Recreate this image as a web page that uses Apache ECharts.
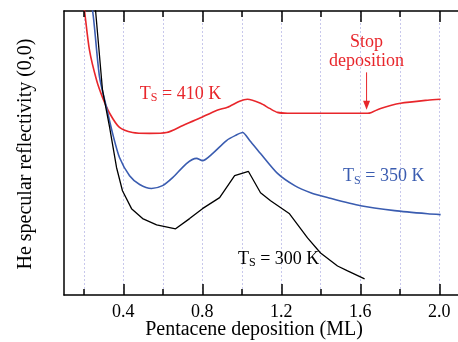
<!DOCTYPE html>
<html lang="en">
<head>
    <meta charset="UTF-8">
    <title>He specular reflectivity</title>
    <script src="https://cdn.jsdelivr.net/npm/echarts/dist/echarts.min.js"></script>
    <style>
        body, html {
            margin: 0;
            padding: 0;
            background: #fff;
        }
        #chart {
            width: 458px;
            height: 342px;
        }
    </style>
</head>
<body>
<div id="chart"></div>
<script>
    // data (x in ML, y in arbitrary units 0..100)
    const red410 = [
        [0.189, 107.4], [0.204, 100], [0.229, 86.2], [0.265, 75.6], [0.295, 69.6],
        [0.331, 64.0], [0.381, 59.0], [0.447, 57.2], [0.533, 56.9], [0.619, 57.2],
        [0.702, 59.7], [0.786, 62.2], [0.872, 65.0], [0.928, 66.1], [0.989, 68.2],
        [1.029, 68.9], [1.095, 67.5], [1.141, 65.7], [1.181, 64.3], [1.232, 64.0],
        [1.394, 64.0], [1.637, 64.0], [1.657, 64.3], [1.703, 65.7], [1.804, 67.5],
        [1.941, 68.6], [2.007, 68.9]
    ];
    const blue350 = [
        [0.219, 107.4], [0.245, 100], [0.280, 76.7], [0.315, 66.1], [0.346, 56.9],
        [0.381, 48.4], [0.432, 42.0], [0.483, 38.9], [0.543, 37.5], [0.599, 38.5],
        [0.650, 41.3], [0.720, 46.3], [0.771, 48.1], [0.801, 47.3], [0.852, 49.8],
        [0.923, 54.4], [0.969, 56.2], [1.004, 57.2], [1.040, 54.4], [1.095, 49.8],
        [1.181, 42.8], [1.268, 38.5], [1.349, 36.0], [1.434, 34.3], [1.602, 31.4],
        [1.774, 29.7], [1.941, 28.6], [2.007, 28.3]
    ];
    const black300 = [
        [0.235, 107.4], [0.260, 100], [0.295, 72.1], [0.331, 59.0], [0.366, 44.9],
        [0.396, 36.7], [0.442, 30.4], [0.498, 26.9], [0.569, 24.7], [0.665, 23.3],
        [0.736, 26.9], [0.801, 30.4], [0.888, 34.3], [0.964, 42.0], [1.034, 43.5],
        [1.095, 36.0], [1.146, 33.2], [1.242, 28.6], [1.333, 20.1], [1.399, 14.8],
        [1.485, 10.2], [1.536, 8.5], [1.622, 5.7]
    ];

    // tick positions on the x axis
    const majorTicks = [0.4, 0.8, 1.2, 1.6, 2.0];
    const minorTicks = [0.2, 0.6, 1.0, 1.4, 1.8];
    const allTicks = [0.2, 0.4, 0.6, 0.8, 1.0, 1.2, 1.4, 1.6, 1.8, 2.0];

    // label anchors in data coordinates
    const label410 = [0.690, 70.7];
    const label350 = [1.719, 41.7];
    const label300 = [1.187, 12.7];
    const stopLabel = [1.632, 85.5];
    const stopArrow = [[1.632, 78.4], [1.632, 65.2]];

    const RED = '#e8262b';
    const BLUE = '#3a5cb0';
    const SERIF = 'Liberation Serif';
    const Y_MIN = 0;
    const Y_MAX = 100;
    const MAJOR_LEN = 3.9;   // tick length in y units (about 11 px)
    const MINOR_LEN = 2.1;   // about 6 px

    function tsLabel(temp) {
        return '{t|T}{s|S}{t| = ' + temp + ' K}';
    }
    function tsRich(color) {
        return {
            t: {fontFamily: SERIF, fontSize: 18, color: color, lineHeight: 20},
            s: {fontFamily: SERIF, fontSize: 12, color: color, lineHeight: 20, verticalAlign: 'bottom', padding: [6, 0, 0, 0]}
        };
    }
    function labelPoint(coord, temp, color) {
        return {
            symbol: 'circle',
            symbolSize: 0,
            silent: true,
            data: [{coord: coord}],
            label: {
                show: true,
                position: 'inside',
                formatter: tsLabel(temp),
                rich: tsRich(color)
            }
        };
    }

    // tick marks on the bottom and top frame lines
    function tickSegments(values, len) {
        const segs = [];
        values.forEach(v => {
            segs.push([{coord: [v, Y_MIN]}, {coord: [v, Y_MIN + len]}]);
            segs.push([{coord: [v, Y_MAX]}, {coord: [v, Y_MAX - len]}]);
        });
        return segs;
    }

    function xAxisDef(position, extra) {
        return Object.assign({
            type: 'value',
            position: position,
            min: 0.1,
            max: 2.1,
            axisLine: {show: true, onZero: false, lineStyle: {color: '#000', width: 1.5}},
            axisTick: {show: false},
            axisLabel: {show: false},
            splitLine: {show: false}
        }, extra || {});
    }

    const chart = echarts.init(document.getElementById('chart'));
    const option = {
        animation: false,
        grid: {left: 64, top: 11, right: -1, bottom: 47, outerBoundsMode: 'none'},
        xAxis: [
            xAxisDef('bottom', {
                axisLabel: {
                    show: true,
                    customValues: majorTicks,
                    margin: 8,
                    fontFamily: SERIF,
                    fontSize: 18,
                    color: '#000',
                    formatter: v => v.toFixed(1)
                }
            }),
            xAxisDef('top', {
                axisTick: {show: false, customValues: allTicks},
                splitLine: {show: true, lineStyle: {color: '#c8c8ec', type: [2, 2], width: 1}}
            })
        ],
        yAxis: {
            type: 'value',
            min: Y_MIN,
            max: Y_MAX,
            axisLine: {show: true, lineStyle: {color: '#000', width: 1.5}},
            axisTick: {show: false},
            axisLabel: {show: false},
            splitLine: {show: false}
        },
        series: [
            {
                name: 'Ts = 410 K',
                type: 'line',
                xAxisIndex: 0,
                data: red410,
                showSymbol: false,
                smooth: 0.25,
                lineStyle: {color: RED, width: 1.6},
                markPoint: labelPoint(label410, 410, RED)
            },
            {
                name: 'Ts = 350 K',
                type: 'line',
                xAxisIndex: 0,
                data: blue350,
                showSymbol: false,
                smooth: 0.25,
                lineStyle: {color: BLUE, width: 1.6},
                markPoint: labelPoint(label350, 350, BLUE)
            },
            {
                name: 'Ts = 300 K',
                type: 'line',
                xAxisIndex: 0,
                data: black300,
                showSymbol: false,
                lineStyle: {color: '#000', width: 1.3},
                markPoint: labelPoint(label300, 300, '#000')
            },
            {
                name: 'stop',
                type: 'scatter',
                xAxisIndex: 0,
                data: [],
                markPoint: {
                    symbol: 'circle',
                    symbolSize: 0,
                    silent: true,
                    data: [{coord: stopLabel}],
                    label: {
                        show: true,
                        position: 'inside',
                        formatter: 'Stop\ndeposition',
                        fontFamily: SERIF,
                        fontSize: 18,
                        lineHeight: 19,
                        color: RED
                    }
                },
                markLine: {
                    silent: true,
                    symbol: ['none', 'none'],
                    label: {show: false},
                    lineStyle: {color: '#000', width: 1.5, type: 'solid'},
                    data: tickSegments(majorTicks, MAJOR_LEN).concat(tickSegments(minorTicks, MINOR_LEN))
                }
            }
        ]
    };
    chart.setOption(option);

    // axis titles and the "stop deposition" arrow
    const a0 = chart.convertToPixel({xAxisIndex: 0, yAxisIndex: 0}, stopArrow[0]);
    const a1 = chart.convertToPixel({xAxisIndex: 0, yAxisIndex: 0}, stopArrow[1]);
    chart.setOption({
        graphic: [
            {
                type: 'text',
                x: 254,
                y: 330,
                style: {text: 'Pentacene deposition (ML)', font: '20px "Liberation Serif"', fill: '#000', align: 'center', verticalAlign: 'middle'}
            },
            {
                type: 'text',
                x: 26,
                y: 154,
                rotation: Math.PI / 2,
                style: {text: 'He specular reflectivity (0,0)', font: '20px "Liberation Serif"', fill: '#000', align: 'center', verticalAlign: 'middle'}
            },
            {
                type: 'line',
                shape: {x1: a0[0], y1: a0[1], x2: a1[0], y2: a1[1] - 6},
                style: {stroke: RED, lineWidth: 1}
            },
            {
                type: 'polygon',
                shape: {points: [[a1[0] - 3.5, a1[1] - 9], [a1[0] + 3.5, a1[1] - 9], [a1[0], a1[1]]]},
                style: {fill: RED}
            }
        ]
    });
</script>
</body>
</html>
